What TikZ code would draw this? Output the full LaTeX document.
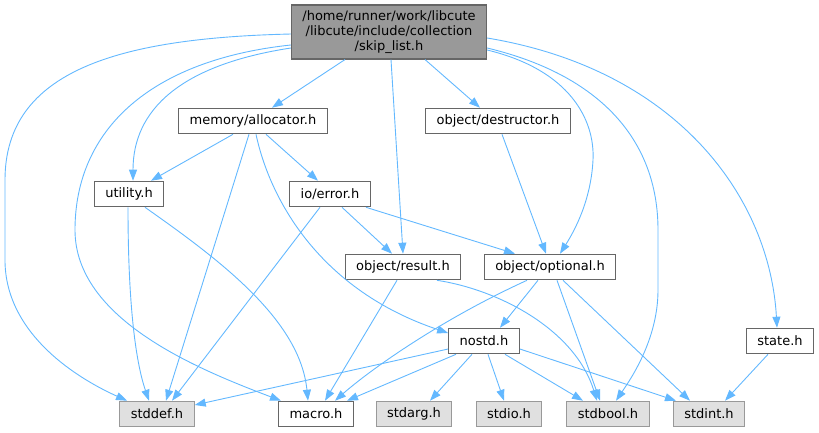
\documentclass[tikz,border=0pt]{standalone}
\usepackage{fontspec}
\setmainfont{DejaVu Sans}
\usetikzlibrary{arrows.meta}
\definecolor{edgeblue}{HTML}{63B8FF}
\definecolor{boxgray}{HTML}{666666}
\definecolor{sysgray}{HTML}{999999}
\definecolor{sysfill}{HTML}{E0E0E0}
\definecolor{rootfill}{HTML}{999999}
\begin{document}
\begin{tikzpicture}[x=1pt,y=-1pt,
  every node/.style={font=\fontsize{13}{15}\selectfont, inner xsep=11pt, inner ysep=2pt, minimum height=25.5pt, line width=1.1pt},
  hdr/.style={draw=boxgray, fill=white},
  sys/.style={draw=sysgray, fill=sysfill},
  mainfile/.style={draw=boxgray, fill=rootfill, align=center, minimum width=194pt, minimum height=54pt},
  inc/.style={draw=edgeblue, line width=0.9pt, -{Triangle[length=11pt,width=8pt]}}]
\useasboundingbox (0,0) rectangle (819,432);
% files
\node[mainfile] (root) at (389,32) {/home/runner/work/libcute\\/libcute/include/collection\\/skip\_list.h};
\node[hdr] (alloc) at (253,121) {memory/allocator.h};
\node[hdr] (destr) at (498,121) {object/destructor.h};
\node[hdr] (util) at (129,194) {utility.h};
\node[hdr] (err) at (330,194) {io/error.h};
\node[hdr] (result) at (403,267) {object/result.h};
\node[hdr] (optional) at (550,267) {object/optional.h};
\node[hdr] (nostd) at (484,341) {nostd.h};
\node[hdr] (state) at (780,341) {state.h};
\node[sys] (stddef) at (157,414) {stddef.h};
\node[hdr] (macro) at (316,414) {macro.h};
\node[sys] (stdarg) at (414,414) {stdarg.h};
\node[sys] (stdio) at (509,414) {stdio.h};
\node[sys] (stdbool) at (608,414) {stdbool.h};
\node[sys] (stdint) at (709,414) {stdint.h};
% includes of skip_list.h
\draw[inc] ([yshift=-2pt]root.west) .. controls (120,38) and (5,70) .. (5,180) -- (5,260) .. controls (5,330) and (70,375) .. ([xshift=-30pt]stddef.north);
\draw[inc] ([yshift=-13pt]root.west) .. controls (150,60) and (75,130) .. (75,230) .. controls (75,320) and (200,370) .. ([xshift=-35pt]macro.north);
\draw[inc] ([yshift=-16pt]root.west) .. controls (180,65) and (133,110) .. ([xshift=4pt]util.north);
\draw[inc] ([xshift=-44pt]root.south) -- ([xshift=19pt]alloc.north);
\draw[inc] ([xshift=2pt]root.south) -- (result.north);
\draw[inc] ([xshift=36pt]root.south) -- ([xshift=-18pt]destr.north);
\draw[inc] ([yshift=-18pt]root.east) .. controls (570,70) and (595,120) .. (593,160) .. controls (591,200) and (575,230) .. ([xshift=10pt]optional.north);
\draw[inc] ([yshift=-16pt]root.east) .. controls (600,75) and (658,140) .. (658,230) -- (658,290) .. controls (658,340) and (630,380) .. ([xshift=8pt]stdbool.north);
\draw[inc] ([yshift=-6pt]root.east) .. controls (680,70) and (770,200) .. ([xshift=-3pt]state.north);
% memory/allocator.h
\draw[inc] ([xshift=-20pt]alloc.south) -- ([xshift=22pt]util.north);
\draw[inc] ([xshift=-4pt]alloc.south) -- ([xshift=9pt]stddef.north);
\draw[inc] ([xshift=3pt]alloc.south) .. controls (270,200) and (320,290) .. ([yshift=8pt]nostd.west);
\draw[inc] ([xshift=13pt]alloc.south) -- ([xshift=-12pt]err.north);
% utility.h, io/error.h, object/destructor.h
\draw[inc] ([xshift=-1pt]util.south) .. controls (128,300) and (135,360) .. ([xshift=-8pt]stddef.north);
\draw[inc] ([xshift=16pt]util.south) .. controls (220,260) and (300,320) .. ([xshift=-8pt]macro.north);
\draw[inc] ([xshift=-10pt]err.south) -- ([xshift=15pt]stddef.north);
\draw[inc] ([xshift=12pt]err.south) -- ([xshift=-11pt]result.north);
\draw[inc] ([xshift=36pt]err.south) -- ([xshift=-35pt]optional.north);
\draw[inc] ([xshift=4pt]destr.south) -- ([xshift=-4pt]optional.north);
% object/result.h, object/optional.h
\draw[inc] ([xshift=-6pt]result.south) -- ([xshift=9pt]macro.north);
\draw[inc] ([xshift=34pt]result.south) .. controls (500,290) and (575,330) .. ([xshift=-11pt]stdbool.north);
\draw[inc] ([xshift=-23pt]optional.south) .. controls (440,320) and (370,370) .. ([xshift=19pt]macro.north);
\draw[inc] ([xshift=-12pt]optional.south) -- ([xshift=16pt]nostd.north);
\draw[inc] ([xshift=7pt]optional.south) -- ([xshift=-8pt]stdbool.north);
\draw[inc] ([xshift=13pt]optional.south) -- ([xshift=-19pt]stdint.north);
% nostd.h, state.h
\draw[inc] ([yshift=-8pt]nostd.west) -- ([yshift=9pt]stddef.east);
\draw[inc] ([xshift=-28pt]nostd.south) -- ([xshift=31pt]macro.north);
\draw[inc] ([xshift=-12pt]nostd.south) -- ([xshift=16pt]stdarg.north);
\draw[inc] ([xshift=4pt]nostd.south) -- ([xshift=-5pt]stdio.north);
\draw[inc] ([xshift=21pt]nostd.south) -- ([xshift=-25pt]stdbool.north);
\draw[inc] ([yshift=-8pt]nostd.east) -- ([xshift=-33pt]stdint.north);
\draw[inc] ([xshift=-12pt]state.south) -- ([xshift=16pt]stdint.north);
\end{tikzpicture}
\end{document}
